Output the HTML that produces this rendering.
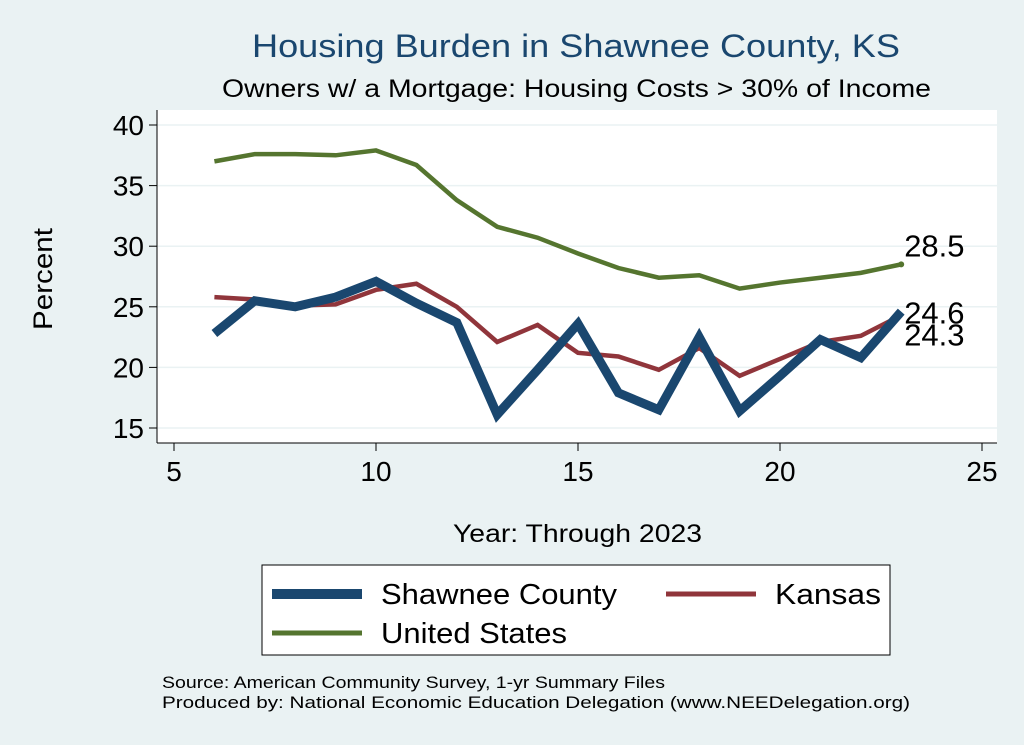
<!DOCTYPE html>
<html><head><meta charset="utf-8"><style>
body{margin:0;background:#eaf2f3;}
svg{display:block;font-family:"Liberation Sans",Arial,sans-serif;}
</style></head><body>
<svg id="chart" width="1024" height="745" viewBox="0 0 1024 745">
<rect x="0" y="0" width="1024" height="745" fill="#eaf2f3"/>
<text x="252" y="57" font-size="32" textLength="648" lengthAdjust="spacingAndGlyphs" fill="#1a476f">Housing Burden in Shawnee County, KS</text>
<text x="222" y="97" font-size="25" textLength="709" lengthAdjust="spacingAndGlyphs" fill="#000">Owners w/ a Mortgage: Housing Costs &gt; 30% of Income</text>
<rect x="157" y="110" width="840" height="333" fill="#fff"/>
<g id="grid"></g>
<g id="axes"></g>
<g id="series"></g>
<text x="52" y="330" font-size="27" textLength="102" lengthAdjust="spacingAndGlyphs" transform="rotate(-90 52 330)">Percent</text>
<text x="453" y="542" font-size="25" textLength="249" lengthAdjust="spacingAndGlyphs">Year: Through 2023</text>
<g>
<rect x="262" y="565" width="628" height="90" fill="#fff" stroke="#000" stroke-width="1"/>
<line x1="272" y1="594" x2="362" y2="594" stroke="#1a476f" stroke-width="10"/>
<text x="381" y="604" font-size="29" textLength="236" lengthAdjust="spacingAndGlyphs">Shawnee County</text>
<line x1="666" y1="594" x2="756" y2="594" stroke="#90353b" stroke-width="5"/>
<text x="775" y="604" font-size="29" textLength="106" lengthAdjust="spacingAndGlyphs">Kansas</text>
<line x1="272" y1="633" x2="362" y2="633" stroke="#55752f" stroke-width="5"/>
<text x="381" y="643" font-size="29" textLength="186" lengthAdjust="spacingAndGlyphs">United States</text>
</g>
<text x="162" y="688" font-size="17" textLength="503" lengthAdjust="spacingAndGlyphs">Source: American Community Survey, 1-yr Summary Files</text>
<text x="162" y="708" font-size="17" textLength="748" lengthAdjust="spacingAndGlyphs">Produced by: National Economic Education Delegation (www.NEEDelegation.org)</text>
</svg>
<script>
const years=[6,7,8,9,10,11,12,13,14,15,16,17,18,19,20,21,22,23];
const usValues=[37.0,37.6,37.6,37.5,37.9,36.7,33.8,31.6,30.7,29.4,28.2,27.4,27.6,26.5,27.0,27.4,27.8,28.5];
const shawneeValues=[22.8,25.5,25.0,25.8,27.1,25.3,23.7,16.1,19.8,23.6,17.9,16.5,22.5,16.4,19.3,22.3,20.8,24.6];
const kansasValues=[25.8,25.6,25.1,25.2,26.4,26.9,25.0,22.1,23.5,21.2,20.9,19.8,21.6,19.3,20.7,22.1,22.6,24.3];
const xTicks=[5,10,15,20,25];
const yTicks=[15,20,25,30,35,40];
const NS="http://www.w3.org/2000/svg";
const xs=v=>174+(v-5)*40.4;
const ys=v=>125+(40-v)*12.12;
function mk(tag,attrs,parent){const e=document.createElementNS(NS,tag);for(const k in attrs)e.setAttribute(k,attrs[k]);parent.appendChild(e);return e;}
const grid=document.getElementById('grid'),axes=document.getElementById('axes'),ser=document.getElementById('series');
mk('line',{x1:157,y1:110,x2:157,y2:443,stroke:'#000','stroke-width':1},axes);
mk('line',{x1:157,y1:443,x2:997,y2:443,stroke:'#000','stroke-width':1},axes);
yTicks.forEach(t=>{
  const g=mk('line',{x1:157,x2:997,y1:ys(t),y2:ys(t),stroke:'#eaf2f3','stroke-width':1.5},grid);
  
  
  mk('line',{x1:149,x2:157,y1:ys(t),y2:ys(t),stroke:'#000'},axes);
  const l=mk('text',{x:144,y:ys(t)+10,'text-anchor':'end','font-size':28},axes);
  l.textContent=t;
  
  
});
xTicks.forEach(t=>{
  mk('line',{x1:xs(t),x2:xs(t),y1:443,y2:451,stroke:'#000'},axes);
  const l=mk('text',{x:xs(t),y:481,'text-anchor':'middle','font-size':28},axes);
  l.textContent=t;
  
  
});
function line(vals,color,w,name){
  const p=mk('polyline',{points:vals.map((v,i)=>xs(years[i])+','+ys(v)).join(' '),fill:'none',stroke:color,'stroke-width':w,'stroke-linejoin':'miter'},ser);
  
  
}
line(usValues,'#55752f',4.5,'line-united-states');
line(kansasValues,'#90353b',4.5,'line-kansas');
line(shawneeValues,'#1a476f',9,'line-shawnee-county');
const last=years.length-1;
const d=mk('circle',{cx:xs(years[last]),cy:ys(usValues[last]),r:3,fill:'#55752f'},ser);


[[usValues[last],-8,'label-us-end'],[shawneeValues[last],12,'label-shawnee-end'],[kansasValues[last],30,'label-kansas-end']].forEach(a=>{
  const t=mk('text',{x:xs(years[last])+3,y:ys(a[0])+a[1],'font-size':31},ser);
  t.textContent=a[0].toFixed(1);
  
  
});
</script>
</body></html>
